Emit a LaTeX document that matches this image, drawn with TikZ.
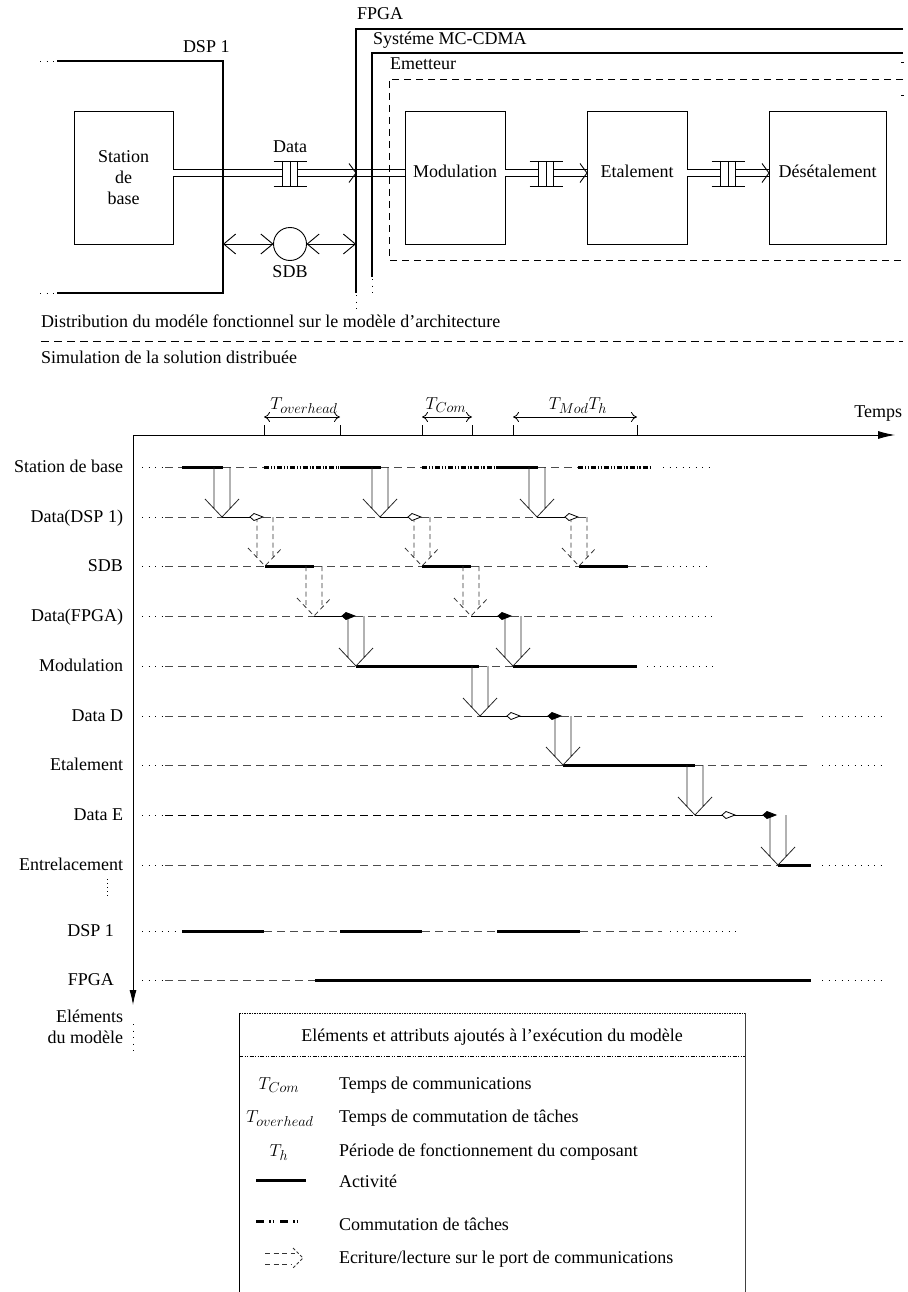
\documentclass[tikz,border=0pt]{standalone}
\usepackage{fontspec}
\setmainfont{Liberation Serif}
\usetikzlibrary{arrows.meta,calc}
\newcommand\sbs[1]{_{\hbox{\fontsize{15}{15}\selectfont$#1$}}}
\newcommand\bigarr[4][arr]{\draw[#1] (#2-8,#3) -- (#2-8,#4-9) (#2+8,#3) -- (#2+8,#4-9) (#2-17,#4-18) -- (#2,#4) -- (#2+17,#4-18);}
\newcommand\kite[3]{\draw[thinl, fill=#3] (#1,#2) -- (#1+4,#2-3.5) -- (#1+13,#2) -- (#1+4,#2+3.5) -- cycle;}
\newcommand\opentip[1]{\draw[line width=0.9pt] ($(#1)+(-7,-9.5)$) -- (#1) -- ($(#1)+(-7,9.5)$);}
\begin{document}
\begin{tikzpicture}[x=1pt,y=-1pt,
  every node/.style={inner sep=0pt, outer sep=0pt},
  font=\fontsize{18}{21}\selectfont,
  box/.style={draw, line width=0.9pt, minimum height=133pt, align=center},
  onebox/.style={box, text height=11pt, text depth=11pt},
  outl/.style={line width=1.3pt},
  dbl/.style={double, double distance=6.5pt, line width=0.9pt},
  barb/.style={line width=0.9pt, {Straight Barb[length=12pt,width=20pt]}-{Straight Barb[length=12pt,width=20pt]}},
  qbar/.style={line width=0.9pt},
  edash/.style={line width=0.9pt, dash pattern=on 7pt off 5pt},
  rdash/.style={draw=black!70, line width=0.8pt, dash pattern=on 7.5pt off 5.5pt},
  rdot/.style={line width=0.8pt, dash pattern=on 1pt off 5.5pt},
  act/.style={line width=3pt},
  comm/.style={line width=3pt, dash pattern=on 5pt off 2pt on 1.2pt off 1.5pt on 1.2pt off 2pt},
  commL/.style={line width=3pt, dash pattern=on 8pt off 5pt on 1.5pt off 2pt on 1.5pt off 6pt},
  thinl/.style={line width=0.8pt},
  arr/.style={line width=0.8pt, black!85},
  darr/.style={line width=0.8pt, black!80, dash pattern=on 5pt off 3.5pt},
  dimarr/.style={line width=0.8pt, {Computer Modern Rightarrow[length=6pt,width=10pt]}-{Computer Modern Rightarrow[length=6pt,width=10pt]}},
  queue/.pic={\draw[qbar] (-16.5,-12) -- (16.5,-12) (-16.5,13) -- (16.5,13) (-8,-12) -- (-8,13) (0,-12) -- (0,13) (7.5,-12) -- (7.5,13);
    \coordinate (-w) at (-8,0); \coordinate (-e) at (7.5,0);}
]
\useasboundingbox (0,0) rectangle (907,1292);

% ================= architecture part =================
\node[anchor=base west] (lfpga) at (357,20) {FPGA};
\node[anchor=base west] (lmc) at (373,45) {Systéme MC-CDMA};
\node[anchor=base west] (lem) at (390,70) {Emetteur};
\node[anchor=base west] (ldsp) at (183,53) {DSP 1};

\node[box, minimum width=99pt] (sb) at (123.5,177.5) {Station\\de\\base};
\node[onebox, minimum width=100pt] (mod) at (455,177.5) {Modulation};
\node[onebox, minimum width=100pt] (eta) at (637,177.5) {Etalement};
\node[onebox, minimum width=117pt] (des) at (827.5,177.5) {Désétalement};

\pic (q1) at (290,173) {queue};
\pic (q2) at (546,173) {queue};
\pic (q3) at (728,173) {queue};
\node[anchor=base] (ldata) at (290,153) {Data};

\coordinate (t1) at (356,173);
\coordinate (t2) at (eta.west |- q2-e);
\coordinate (t3) at (des.west |- q3-e);
\draw[dbl] (sb.east |- q1-w) -- (q1-w);
\draw[dbl] (q1-e) -- (mod.west |- q1-e);
\opentip{t1}
\draw[dbl] (mod.east |- q2-w) -- (q2-w);
\draw[dbl] (q2-e) -- (t2);
\opentip{t2}
\draw[dbl] (eta.east |- q3-w) -- (q3-w);
\draw[dbl] (q3-e) -- (t3);
\opentip{t3}

\node[draw, circle, minimum size=33pt, line width=0.9pt] (sdb) at (290,244) {};
\node[anchor=base] (lsdb) at (290,277) {SDB};
\coordinate (dspwall) at (223,244);
\coordinate (fpgawall) at (356,244);
\draw[barb] (dspwall) -- (sdb.west);
\draw[barb] (sdb.east) -- (fpgawall);

% frames
\draw[outl] (57,61) -- (223,61) -- (223,293) -- (57,293);
\draw[rdot] (40,61) -- (57,61) (40,293) -- (57,293);
\draw[outl] (903,29) -- (356,29) -- (356,293);
\draw[rdot] (356,295) -- (356,311);
\draw[outl] (903,53) -- (372,53) -- (372,277);
\draw[rdot] (372,279) -- (372,296);
\draw[edash] (903,79) -- (389,79) -- (389,260) -- (903,260);
\draw[thinl] (901,62) -- (904,62) (901,95) -- (904,95);

% ================= separator =================
\node[anchor=base west] (ldist) at (41,327) {Distribution du modéle fonctionnel sur le modèle d'architecture};
\draw[rdash, draw=black] (41,341) -- (903,341);
\node[anchor=base west] (lsim) at (41,363) {Simulation de la solution distribuée};

% ================= timing diagram =================
\draw[line width=0.9pt, -{Latex[length=17pt,width=8pt]}] (133,435) -- (895,435);
\draw[line width=0.9pt, -{Latex[length=15pt,width=7pt]}] (133,435) -- (133,1005);
\draw[rdot] (133,1024) -- (133,1053);
\node[anchor=base east] (ltemps) at (902,417) {Temps};

\foreach \x in {264,340,422,472,513,637} \draw[thinl] (\x,425) -- (\x,435);
\draw[dimarr] (264,417) -- (340,417);
\draw[dimarr] (422,417) -- (472,417);
\draw[dimarr] (513,417) -- (637,417);
\node[anchor=base] (tov) at (304,409) {$T\sbs{overhead}$};
\node[anchor=base] (tcom) at (446,409) {$T\sbs{Com}$};
\node[anchor=base] (tmod) at (578,409) {$T\sbs{Mod}T\sbs{h}$};

% row labels
\node[anchor=base east] (r1) at (123,472) {Station de base};
\node[anchor=base east] (r2) at (123,522) {Data(DSP 1)};
\node[anchor=base east] (r3) at (123,571) {SDB};
\node[anchor=base east] (r4) at (123,621) {Data(FPGA)};
\node[anchor=base east] (r5) at (123,671) {Modulation};
\node[anchor=base east] (r6) at (123,721) {Data D};
\node[anchor=base east] (r7) at (123,770) {Etalement};
\node[anchor=base east] (r8) at (123,820) {Data E};
\node[anchor=base east] (r9) at (123,870) {Entrelacement};
\draw[rdot, dash pattern=on 1pt off 3pt] (107,879) -- (107,897);
\node[anchor=base east] (r10) at (114,936) {DSP 1};
\node[anchor=base east] (r11) at (114,985) {FPGA};
\node[anchor=base east] (lel1) at (123,1022) {Eléments};
\node[anchor=base east] (lel2) at (123,1043) {du modèle};

% row lines (dotted start)
\foreach \y in {467,517,566,616,666,716,765,815,865,980} \draw[rdot] (142,\y) -- (163,\y);
\draw[rdot] (142,931) -- (178,931);

% Station de base
\draw[rdash] (165,467) -- (182,467) (223,467) -- (264,467) (381,467) -- (422,467) (538,467) -- (578,467);
\draw[act] (182,467) -- (223,467) (340,467) -- (381,467) (497,467) -- (538,467);
\draw[comm] (264,467) -- (340,467) (422,467) -- (497,467) (578,467) -- (652,467);
\draw[rdot] (663,467) -- (713,467);

% Data(DSP 1)
\draw[rdash] (165,517) -- (222,517) (263,517) -- (380,517) (421,517) -- (537,517) (578,517) -- (590,517);
\draw[thinl] (222,517) -- (250,517) (380,517) -- (408,517) (537,517) -- (565,517);

% SDB
\draw[rdash] (165,566) -- (265,566) (314,566) -- (422,566) (471,566) -- (579,566) (628,566) -- (668,566);
\draw[act] (265,566) -- (314,566) (422,566) -- (471,566) (579,566) -- (628,566);
\draw[rdot] (673,566) -- (709,566);

% Data(FPGA)
\draw[rdash] (165,616) -- (314,616) (355,616) -- (471,616) (511,616) -- (628,616);
\draw[thinl] (314,616) -- (342,616) (471,616) -- (498,616);
\draw[rdot] (633,616) -- (713,616);

% Modulation
\draw[rdash] (165,666) -- (356,666) (479,666) -- (513,666);
\draw[act] (356,666) -- (479,666) (513,666) -- (637,666);
\draw[rdot] (647,666) -- (713,666);

% Data D
\draw[rdash] (165,716) -- (480,716) (561,716) -- (808,716);
\draw[thinl] (480,716) -- (548,716);
\draw[rdot] (822,716) -- (884,716);

% Etalement
\draw[rdash] (165,765) -- (563,765) (695,765) -- (808,765);
\draw[act] (563,765) -- (695,765);
\draw[rdot] (822,765) -- (884,765);

% Data E
\draw[rdash, draw=black] (165,815) -- (695,815);
\draw[thinl] (695,815) -- (763,815);

% Entrelacement
\draw[rdash] (165,865) -- (778,865);
\draw[act] (778,865) -- (811,865);
\draw[rdot] (822,865) -- (884,865);

% DSP 1
\draw[rdash] (264,931) -- (340,931) (422,931) -- (497,931) (580,931) -- (662,931);
\draw[act] (182,931) -- (264,931) (340,931) -- (422,931) (497,931) -- (580,931);
\draw[rdot] (670,931) -- (736,931);

% FPGA
\draw[rdash] (165,980) -- (315,980);
\draw[act] (315,980) -- (811,980);
\draw[rdot] (822,980) -- (884,980);

% big arrows
\bigarr{222}{467}{517}
\bigarr{380}{467}{517}
\bigarr{537}{467}{517}
\bigarr{356}{616}{666}
\bigarr{513}{616}{666}
\bigarr{480}{666}{716}
\bigarr{563}{716}{765}
\bigarr{695}{765}{815}
\bigarr{778}{815}{865}
% dashed arrows
\bigarr[darr]{265}{517}{566}
\bigarr[darr]{422}{517}{566}
\bigarr[darr]{579}{517}{566}
\bigarr[darr]{314}{566}{616}
\bigarr[darr]{471}{566}{616}

% diamonds
\kite{250}{517}{white}
\kite{408}{517}{white}
\kite{565}{517}{white}
\kite{342}{616}{black}
\kite{498}{616}{black}
\kite{507}{716}{white}
\kite{548}{716}{black}
\kite{722}{815}{white}
\kite{763}{815}{black}

% ================= legend =================
\draw[line width=0.9pt] (239,1013) -- (239,1296);
\draw[line width=0.9pt, black!75] (745,1013) -- (745,1296);
\draw[line width=0.8pt, dash pattern=on 1.5pt off 1pt] (239,1013) -- (745,1013);
\draw[line width=0.8pt, dash pattern=on 4pt off 1.5pt on 1pt off 1.5pt on 1pt off 1.5pt] (239,1056) -- (745,1056);
\node[anchor=base] (ltitle) at (492,1041) {Eléments et attributs ajoutés à l'exécution du modèle};

\node[anchor=base] (sy1) at (279,1089) {$T\sbs{Com}$};
\node[anchor=base west] (tx1) at (339,1089) {Temps de communications};
\node[anchor=base] (sy2) at (280,1122) {$T\sbs{overhead}$};
\node[anchor=base west] (tx2) at (339,1122) {Temps de commutation de tâches};
\node[anchor=base] (sy3) at (279,1156) {$T\sbs{h}$};
\node[anchor=base west] (tx3) at (339,1156) {Période de fonctionnement du composant};
\draw[act] (256,1180) -- (306,1180);
\node[anchor=base west] (tx4) at (339,1187) {Activité};
\draw[commL] (256,1221) -- (304,1221);
\node[anchor=base west] (tx5) at (339,1230) {Commutation de tâches};
\draw[darr] (265,1253) -- (295,1253) (265,1264) -- (292,1264);
\draw[darr, dash pattern=on 3pt off 2pt] (293,1248) -- (303,1258) -- (293,1268);
\node[anchor=base west] (tx6) at (339,1263) {Ecriture/lecture sur le port de communications};
\end{tikzpicture}
\end{document}
